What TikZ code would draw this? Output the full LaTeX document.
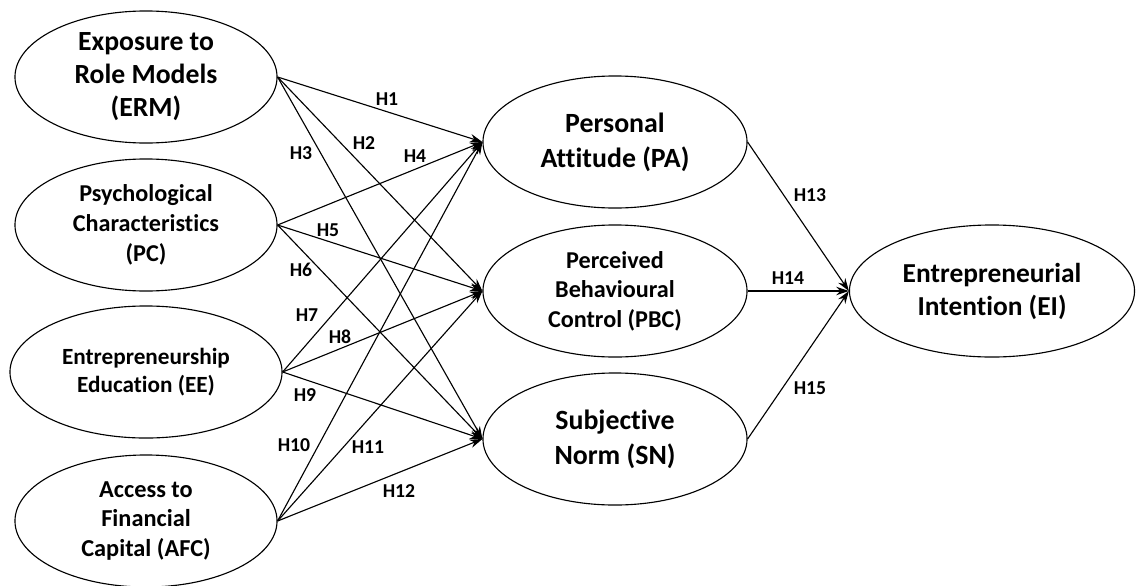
\documentclass[tikz,border=0pt]{standalone}
\usepackage{fontspec}
\setmainfont{Carlito}[Ligatures=NoCommon]
\usetikzlibrary{shapes.geometric,arrows.meta}

\tikzset{
  construct/.style={draw, ellipse, line width=0.8pt, inner sep=0pt, align=center,
    minimum width=6.55cm, minimum height=3.3cm, font=\bfseries},
  hyp/.style={font=\bfseries\fontsize{14}{16}\selectfont, inner sep=0pt},
  path/.style={line width=0.8pt, -{Stealth[length=9pt,width=6pt]}}
}

\begin{document}
\begin{tikzpicture}[x=0.025cm, y=-0.025cm]
\useasboundingbox (0,0) rectangle (1136,585);
% exogenous constructs
\node[construct, font=\bfseries\fontsize{19.7}{23.5}\selectfont] (erm) at (146,77) {Exposure to\\Role Models\\(ERM)};
\node[construct, font=\bfseries\fontsize{17.2}{21.3}\selectfont] (pc) at (146,225) {Psychological\\Characteristics\\(PC)};
\node[construct, minimum width=6.8cm, font=\bfseries\fontsize{16.5}{20}\selectfont] (ee) at (146,372) {Entrepreneurship\\Education (EE)};
\node[construct, font=\bfseries\fontsize{17.3}{21}\selectfont] (afc) at (146,521) {Access to\\Financial\\Capital (AFC)};
% mediators
\node[construct, minimum width=6.6cm, font=\bfseries\fontsize{19.8}{25}\selectfont] (pa) at (615,142) {Personal\\Attitude (PA)};
\node[construct, minimum width=6.6cm, font=\bfseries\fontsize{17.2}{21}\selectfont] (pbc) at (615,291) {Perceived\\Behavioural\\Control (PBC)};
\node[construct, minimum width=6.6cm, font=\bfseries\fontsize{19.8}{25}\selectfont] (sn) at (615,439) {Subjective\\Norm (SN)};
% outcome
\node[construct, minimum width=7.125cm, font=\bfseries\fontsize{19.5}{23.5}\selectfont] (ei) at (992,291) {Entrepreneurial\\Intention (EI)};

\draw[path] (erm.east) -- (pa.west);
\draw[path] (erm.east) -- (pbc.west);
\draw[path] (erm.east) -- (sn.west);
\draw[path] (pc.east) -- (pa.west);
\draw[path] (pc.east) -- (pbc.west);
\draw[path] (pc.east) -- (sn.west);
\draw[path] (ee.east) -- (pa.west);
\draw[path] (ee.east) -- (pbc.west);
\draw[path] (ee.east) -- (sn.west);
\draw[path] (afc.east) -- (pa.west);
\draw[path] (afc.east) -- (pbc.west);
\draw[path] (afc.east) -- (sn.west);
\draw[path] (pa.east) -- (ei.west);
\draw[path] (pbc.east) -- (ei.west);
\draw[path] (sn.east) -- (ei.west);

% hypothesis labels
\node[hyp] (h1) at (387,99) {H1};
\node[hyp] (h2) at (364,143) {H2};
\node[hyp] (h3) at (301,153) {H3};
\node[hyp] (h4) at (415,156) {H4};
\node[hyp] (h5) at (328,230) {H5};
\node[hyp] (h6) at (301,270) {H6};
\node[hyp] (h7) at (307,315) {H7};
\node[hyp] (h8) at (340,337) {H8};
\node[hyp] (h9) at (305,395) {H9};
\node[hyp] (h10) at (294,445) {H10};
\node[hyp] (h11) at (368,447) {H11};
\node[hyp] (h12) at (399,491) {H12};
\node[hyp] (h13) at (810,195) {H13};
\node[hyp] (h14) at (788,278) {H14};
\node[hyp] (h15) at (810,388) {H15};
\end{tikzpicture}
\end{document}
